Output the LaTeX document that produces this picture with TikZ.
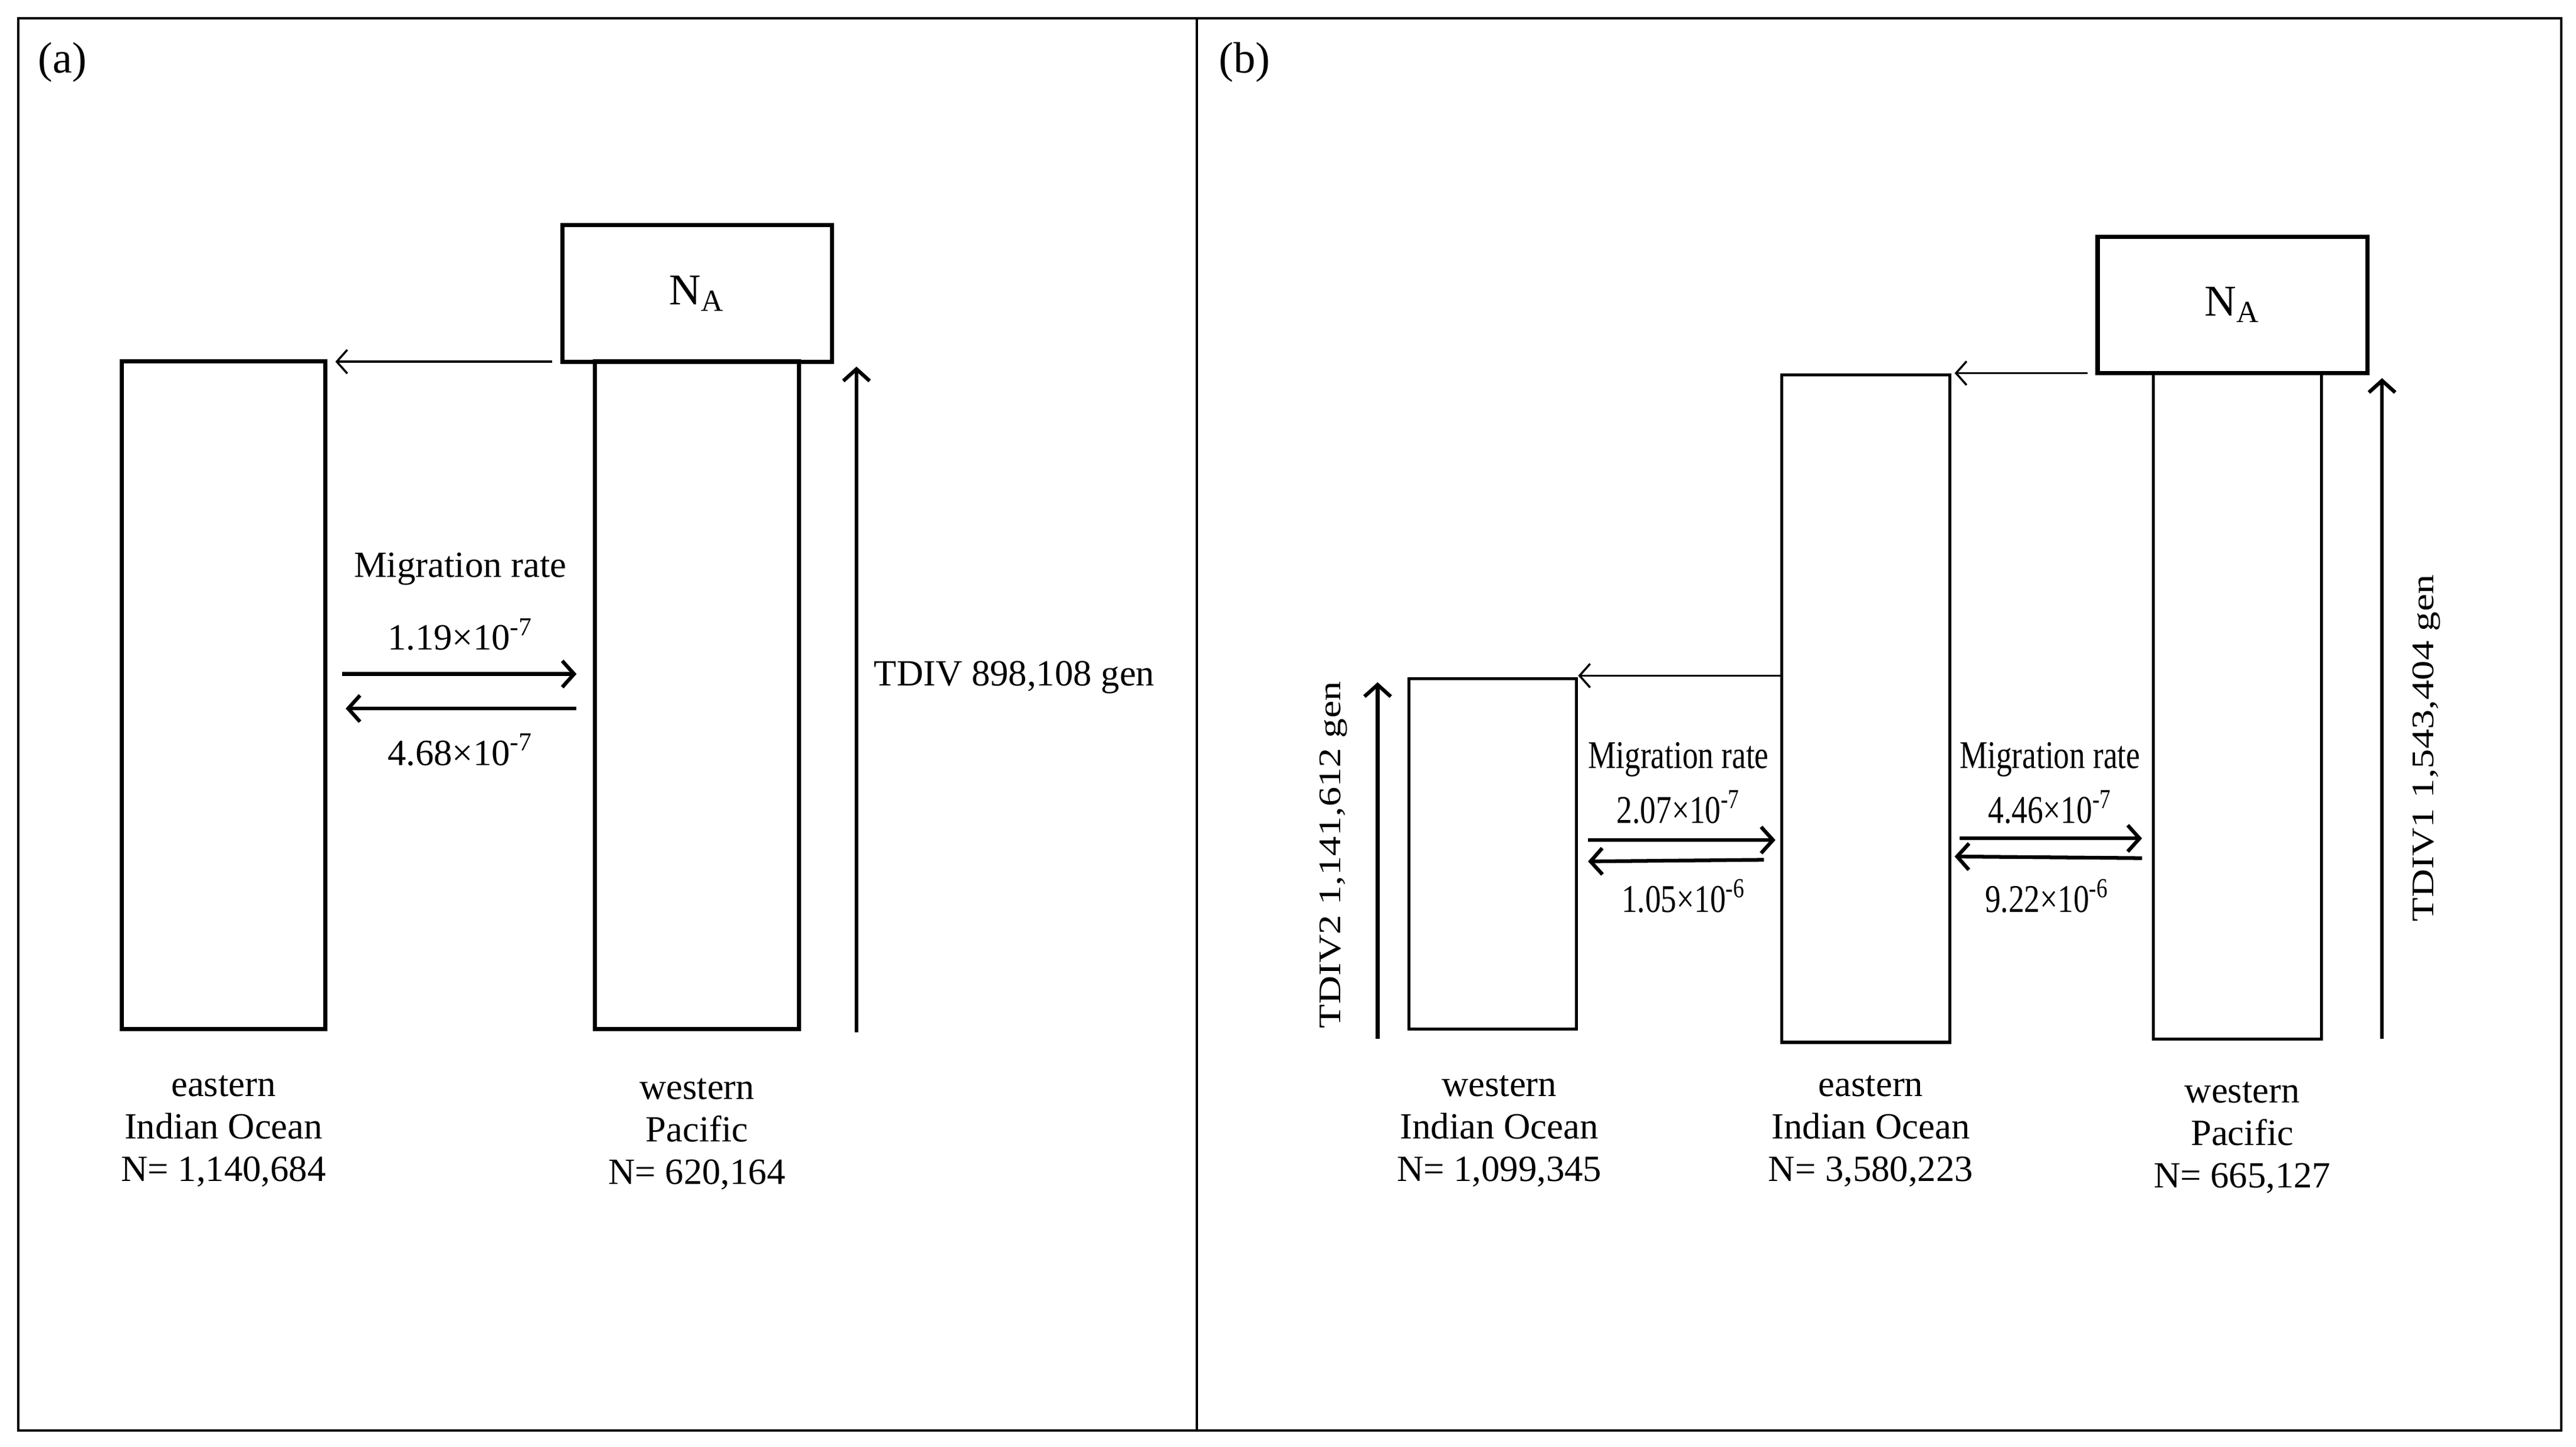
\documentclass[tikz,border=0pt]{standalone}
\usepackage{fontspec}
\setmainfont{Liberation Serif}
\usetikzlibrary{arrows.meta,calc}
\begin{document}
\begin{tikzpicture}[x=0.025cm,y=-0.025cm,
  txt/.style={font=\fontsize{16}{18.4}\selectfont, align=center, inner sep=0pt},
  txtb/.style={font=\fontsize{17}{20}\selectfont, align=center, inner sep=0pt, xscale=0.8},
  boxa/.style={draw, line width=1.8pt, minimum width=3.1cm, minimum height=10.15cm, inner sep=0pt},
  boxb/.style={draw, line width=1.3pt, inner sep=0pt, minimum width=2.55cm},
  na/.style={draw, line width=1.8pt, minimum width=4.1cm, minimum height=2.075cm, inner sep=0pt, font=\fontsize{19}{22}\selectfont},
  mig/.style={-{Straight Barb[length=1.8mm,width=4mm]}, line width=1.6pt},
  thin/.style={-{Straight Barb[length=1.6mm,width=3.6mm]}, line width=0.9pt},
  up/.style={-{Straight Barb[length=1.8mm,width=4mm]}, line width=1.6pt}]
\useasboundingbox (0,0) rectangle (1567,880.2);
\draw[line width=1pt] (11,11) rectangle (1558,870);
\draw[line width=1pt] (728,11) -- (728,870);
\node[font=\fontsize{19}{22}\selectfont, inner sep=0pt] (la) at (38,38) {(a)};
\node[font=\fontsize{19}{22}\selectfont, inner sep=0pt] (lb) at (757,38) {(b)};
% panel a
\node[boxa] (ea) at (136,423) {};
\node[boxa] (wp) at (424,423) {};
\node[na] (naa) at (424,178.5) {N\textsubscript{A}};
\coordinate (sa) at (336,220);
\coordinate (ta) at (204,220);
\draw[thin] (sa) -- (ta);
\coordinate (ua1) at (521,628);
\coordinate (ua2) at (521,223);
\draw[up] (ua1) -- (ua2);
\node[txt] (tdiv) at (617,412) {TDIV 898,108 gen};
\node[txt] (mra) at (280,346) {Migration rate};
\node[txt] (m1) at (280,386) {1.19×10\textsuperscript{-7}};
\node[txt] (m2) at (280,456) {4.68×10\textsuperscript{-7}};
\draw[mig] ($(ea.east)+(9,-13)$) -- ($(wp.west)+(-10,-13)$);
\draw[mig] ($(wp.west)+(-10,8)$) -- ($(ea.east)+(11,8)$);
\node[txt] (eal) at (136,688) {eastern\\Indian Ocean\\N= 1,140,684};
\node[txt] (wpl) at (424,690) {western\\Pacific\\N= 620,164};
% panel b
\node[boxb, minimum height=5.325cm] (b1) at (908,519.5) {};
\node[boxb, minimum height=10.15cm] (b2) at (1135,431) {};
\node[boxb, minimum height=10.125cm] (b3) at (1361,429.5) {};
\node[na] (nab) at (1358,185.5) {N\textsubscript{A}};
\coordinate (sb) at (1270,227);
\draw[thin] (sb) -- (1189,227);
\draw[thin] (1084,411) -- (960,411);
\coordinate (ub1) at (838,632);
\coordinate (ub2) at (838,415);
\draw[up] (ub1) -- (ub2);
\node[txtb, rotate=90] (td2) at (811,520) {TDIV2 1,141,612 gen};
\coordinate (uc1) at (1449,632);
\coordinate (uc2) at (1449,230);
\draw[up] (uc1) -- (uc2);
\node[txtb, rotate=90] (td1) at (1476,455) {TDIV1 1,543,404 gen};
\node[txtb] (mr1) at (1021,462) {Migration rate};
\node[txtb] (n1) at (1021,491) {2.07×10\textsuperscript{-7}};
\node[txtb] (n2) at (1024,545) {1.05×10\textsuperscript{-6}};
\draw[mig] (966,511) -- (1080,511);
\draw[mig] (1073,523) -- (966,524);
\node[txtb] (mr2) at (1247,462) {Migration rate};
\node[txtb] (n3) at (1247,491) {4.46×10\textsuperscript{-7}};
\node[txtb] (n4) at (1245,545) {9.22×10\textsuperscript{-6}};
\draw[mig] (1192,510) -- (1303,510);
\draw[mig] (1303,522) -- (1189,521);
\node[txt] (l1) at (912,688) {western\\Indian Ocean\\N= 1,099,345};
\node[txt] (l2) at (1138,688) {eastern\\Indian Ocean\\N= 3,580,223};
\node[txt] (l3) at (1364,692) {western\\Pacific\\N= 665,127};
\end{tikzpicture}
\end{document}
